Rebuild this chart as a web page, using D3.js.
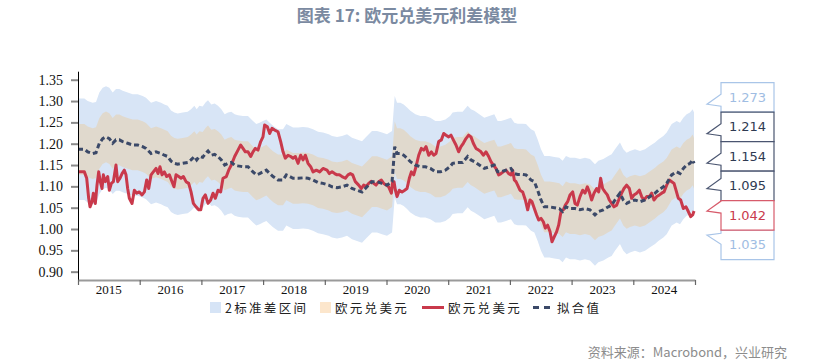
<!DOCTYPE html>
<html><head><meta charset="utf-8">
<script src="https://cdn.jsdelivr.net/npm/d3@7"></script>
<style>body{margin:0;background:#fff}svg{display:block}</style>
</head><body><svg id="c" width="823" height="364"></svg>
<script>
const title = "图表 17: 欧元兑美元利差模型";
const source = "资料来源：Macrobond，兴业研究";
const years = [2015,2016,2017,2018,2019,2020,2021,2022,2023,2024];
const yTicks = [0.90,0.95,1.00,1.05,1.10,1.15,1.20,1.25,1.30,1.35];
const legendLabels = ["2标准差区间","欧元兑美元","欧元兑美元","拟合值"];
const sigma = 0.0595;
const calloutValues = [1.273,1.214,1.154,1.095,1.042,1.035];
const calloutKinds = ["band2","band1","fit","band1","spot","band2"];

const eurusd = [
[2015.005,1.134],[2015.103,1.134],[2015.141,1.119],[2015.173,1.072],[2015.195,1.052],[2015.227,1.064],[2015.249,1.084],[2015.281,1.060],[2015.308,1.103],[2015.335,1.134],[2015.362,1.111],[2015.389,1.095],[2015.411,1.127],[2015.443,1.111],[2015.481,1.123],[2015.508,1.091],[2015.541,1.107],[2015.573,1.111],[2015.616,1.150],[2015.643,1.111],[2015.681,1.119],[2015.714,1.130],[2015.751,1.138],[2015.778,1.127],[2015.805,1.095],[2015.832,1.072],[2015.876,1.060],[2015.913,1.091],[2015.951,1.084],[2015.994,1.087],
[2016.038,1.080],[2016.076,1.087],[2016.113,1.115],[2016.146,1.095],[2016.184,1.127],[2016.221,1.134],[2016.265,1.142],[2016.297,1.130],[2016.329,1.146],[2016.362,1.127],[2016.400,1.134],[2016.437,1.123],[2016.481,1.127],[2016.524,1.111],[2016.556,1.099],[2016.589,1.127],[2016.632,1.123],[2016.670,1.119],[2016.708,1.123],[2016.751,1.111],[2016.794,1.107],[2016.832,1.087],[2016.870,1.060],[2016.913,1.052],[2016.956,1.045],[2016.990,1.045],
[2017.026,1.072],[2017.064,1.080],[2017.107,1.060],[2017.150,1.068],[2017.188,1.084],[2017.226,1.072],[2017.269,1.091],[2017.312,1.087],[2017.350,1.119],[2017.404,1.123],[2017.442,1.138],[2017.485,1.150],[2017.539,1.170],[2017.593,1.185],[2017.637,1.197],[2017.674,1.189],[2017.712,1.181],[2017.755,1.181],[2017.799,1.170],[2017.836,1.181],[2017.874,1.189],[2017.917,1.185],[2017.961,1.205],[2017.998,1.216],
[2018.025,1.244],[2018.069,1.240],[2018.107,1.224],[2018.144,1.236],[2018.188,1.232],[2018.242,1.228],[2018.285,1.205],[2018.323,1.181],[2018.360,1.166],[2018.404,1.173],[2018.447,1.170],[2018.485,1.166],[2018.523,1.170],[2018.566,1.154],[2018.609,1.173],[2018.647,1.162],[2018.685,1.173],[2018.728,1.154],[2018.771,1.146],[2018.809,1.134],[2018.863,1.138],[2018.917,1.134],[2018.971,1.142],
[2019.036,1.138],[2019.074,1.130],[2019.117,1.134],[2019.160,1.130],[2019.198,1.127],[2019.236,1.127],[2019.279,1.123],[2019.333,1.119],[2019.376,1.127],[2019.414,1.130],[2019.452,1.127],[2019.495,1.111],[2019.549,1.103],[2019.592,1.095],[2019.630,1.103],[2019.668,1.099],[2019.711,1.107],[2019.755,1.112],[2019.792,1.107],[2019.830,1.103],[2019.873,1.111],[2019.917,1.115],[2019.954,1.107],[2019.992,1.103],
[2020.035,1.099],[2020.079,1.084],[2020.100,1.111],[2020.122,1.111],[2020.144,1.091],[2020.171,1.076],[2020.208,1.091],[2020.252,1.087],[2020.295,1.091],[2020.333,1.095],[2020.370,1.119],[2020.403,1.134],[2020.441,1.127],[2020.478,1.146],[2020.522,1.173],[2020.565,1.189],[2020.603,1.185],[2020.641,1.193],[2020.684,1.173],[2020.727,1.181],[2020.765,1.173],[2020.803,1.177],[2020.846,1.205],[2020.889,1.209],[2020.927,1.224],[2020.965,1.220],
[2021.008,1.216],[2021.045,1.220],[2021.083,1.209],[2021.126,1.197],[2021.169,1.181],[2021.207,1.193],[2021.245,1.201],[2021.288,1.212],[2021.331,1.220],[2021.369,1.216],[2021.407,1.201],[2021.450,1.189],[2021.493,1.185],[2021.531,1.181],[2021.569,1.173],[2021.612,1.181],[2021.656,1.170],[2021.693,1.158],[2021.731,1.150],[2021.774,1.142],[2021.818,1.127],[2021.855,1.130],[2021.893,1.134],[2021.936,1.138],[2021.980,1.130],
[2022.017,1.127],[2022.044,1.138],[2022.072,1.115],[2022.099,1.111],[2022.126,1.103],[2022.163,1.091],[2022.207,1.087],[2022.250,1.068],[2022.288,1.045],[2022.325,1.068],[2022.358,1.064],[2022.396,1.048],[2022.433,1.033],[2022.466,1.021],[2022.504,1.025],[2022.542,1.017],[2022.574,1.002],[2022.612,1.009],[2022.650,0.994],[2022.682,0.970],[2022.720,0.982],[2022.758,0.994],[2022.790,1.009],[2022.828,1.041],[2022.866,1.045],[2022.898,1.056],[2022.936,1.064],[2022.974,1.080],
[2023.017,1.087],[2023.055,1.060],[2023.093,1.056],[2023.136,1.076],[2023.179,1.091],[2023.217,1.084],[2023.255,1.099],[2023.287,1.087],[2023.325,1.068],[2023.363,1.084],[2023.406,1.095],[2023.439,1.087],[2023.471,1.119],[2023.503,1.095],[2023.541,1.087],[2023.579,1.080],[2023.611,1.068],[2023.649,1.060],[2023.687,1.052],[2023.730,1.056],[2023.774,1.072],[2023.811,1.084],[2023.849,1.095],[2023.892,1.103],[2023.936,1.095],[2023.973,1.072],
[2024.011,1.080],[2024.054,1.084],[2024.098,1.091],[2024.135,1.076],[2024.173,1.068],[2024.217,1.076],[2024.260,1.076],[2024.298,1.084],[2024.335,1.068],[2024.379,1.076],[2024.422,1.080],[2024.460,1.084],[2024.498,1.087],[2024.541,1.103],[2024.584,1.115],[2024.622,1.111],[2024.660,1.107],[2024.692,1.091],[2024.730,1.072],[2024.768,1.068],[2024.811,1.048],[2024.854,1.052],[2024.892,1.041],[2024.930,1.029],[2024.962,1.033],[2024.984,1.042]
];

const fitted = [
[2015.000,1.187],[2015.103,1.187],[2015.157,1.181],[2015.238,1.177],[2015.292,1.179],[2015.346,1.201],[2015.400,1.212],[2015.454,1.216],[2015.508,1.212],[2015.562,1.201],[2015.616,1.209],[2015.670,1.209],[2015.724,1.205],[2015.805,1.201],[2015.886,1.197],[2015.967,1.197],
[2016.048,1.193],[2016.102,1.189],[2016.184,1.177],[2016.265,1.181],[2016.346,1.177],[2016.400,1.173],[2016.454,1.170],[2016.508,1.159],[2016.562,1.154],[2016.616,1.152],[2016.697,1.154],[2016.778,1.156],[2016.832,1.162],[2016.886,1.170],[2016.924,1.162],[2016.967,1.170],
[2017.020,1.168],[2017.070,1.178],[2017.107,1.183],[2017.161,1.173],[2017.215,1.175],[2017.269,1.170],[2017.323,1.162],[2017.377,1.150],[2017.431,1.154],[2017.485,1.156],[2017.539,1.150],[2017.593,1.148],[2017.674,1.146],[2017.755,1.146],[2017.836,1.134],[2017.890,1.127],[2017.944,1.130],[2017.998,1.134],
[2018.053,1.138],[2018.107,1.130],[2018.161,1.123],[2018.242,1.115],[2018.323,1.115],[2018.377,1.127],[2018.431,1.123],[2018.485,1.119],[2018.566,1.119],[2018.647,1.120],[2018.728,1.119],[2018.809,1.115],[2018.890,1.109],[2018.971,1.107],
[2019.063,1.103],[2019.117,1.099],[2019.198,1.097],[2019.279,1.099],[2019.360,1.103],[2019.441,1.095],[2019.522,1.091],[2019.603,1.087],[2019.684,1.099],[2019.765,1.111],[2019.846,1.111],[2019.927,1.107],
[2020.008,1.103],[2020.090,1.111],[2020.111,1.150],[2020.133,1.193],[2020.171,1.177],[2020.225,1.177],[2020.279,1.173],[2020.333,1.166],[2020.387,1.158],[2020.468,1.150],[2020.549,1.146],[2020.630,1.146],[2020.711,1.142],[2020.792,1.134],[2020.873,1.134],[2020.954,1.138],
[2021.030,1.146],[2021.072,1.154],[2021.153,1.156],[2021.234,1.156],[2021.315,1.170],[2021.369,1.162],[2021.423,1.158],[2021.504,1.150],[2021.585,1.142],[2021.666,1.146],[2021.747,1.150],[2021.801,1.134],[2021.855,1.134],[2021.936,1.138],
[2022.017,1.142],[2022.072,1.130],[2022.126,1.128],[2022.207,1.128],[2022.261,1.127],[2022.342,1.115],[2022.396,1.111],[2022.450,1.091],[2022.504,1.068],[2022.558,1.052],[2022.639,1.052],[2022.720,1.050],[2022.801,1.048],[2022.855,1.041],[2022.909,1.052],[2022.974,1.048],
[2023.055,1.048],[2023.136,1.045],[2023.217,1.048],[2023.298,1.045],[2023.379,1.033],[2023.433,1.041],[2023.514,1.045],[2023.595,1.052],[2023.649,1.056],[2023.703,1.068],[2023.784,1.084],[2023.838,1.068],[2023.892,1.060],[2023.946,1.064],
[2024.027,1.068],[2024.108,1.064],[2024.190,1.068],[2024.271,1.076],[2024.352,1.084],[2024.406,1.091],[2024.487,1.099],[2024.541,1.107],[2024.622,1.127],[2024.703,1.134],[2024.757,1.130],[2024.811,1.142],[2024.865,1.150],[2024.919,1.154],[2024.962,1.162],[2024.984,1.154]
];

const svg = d3.select("#c");
const x = d3.scaleLinear().domain([2015, 2025]).range([78, 695]);
const y = d3.scaleLinear().domain([0.88, 1.37]).range([280.2, 71.2]);

const serif = "'Liberation Serif','Times New Roman',serif";
const cjk = "'Noto Sans CJK SC','Noto Sans',sans-serif";

// title
svg.append("text").attr("x", 407).attr("y", 22).attr("text-anchor", "middle")
  .attr("font-family", cjk).attr("font-weight", "bold").attr("font-size", 17)
  .attr("fill", "#7b8aa1").text(title);

// bands
const band = fitted.map(d => ({t: d[0], f: d[1]}));
const area2 = d3.area().x(d => x(d.t)).y0(d => y(d.f - 2 * sigma)).y1(d => y(d.f + 2 * sigma));
const area1 = d3.area().x(d => x(d.t)).y0(d => y(d.f - sigma)).y1(d => y(d.f + sigma));
svg.append("path").datum(band).attr("d", area2).attr("fill", "#d8e5f6");
svg.append("path").datum(band).attr("d", area1).attr("fill", "#e0d9cd");

// lines
const line = d3.line().x(d => x(d[0])).y(d => y(d[1]));
svg.append("path").datum(eurusd).attr("d", line).attr("fill", "none")
  .attr("stroke", "#c9394b").attr("stroke-width", 3).attr("stroke-linejoin", "round");
svg.append("path").datum(fitted).attr("d", line).attr("fill", "none")
  .attr("stroke", "#3b4968").attr("stroke-width", 3).attr("stroke-dasharray", "5,3");

// y axis
const yAxis = svg.append("g").attr("transform", "translate(78,0)")
  .call(d3.axisLeft(y).tickValues(yTicks).tickSize(7).tickSizeOuter(0).tickFormat(d3.format(".2f")));
yAxis.select(".domain").attr("stroke", "#000").attr("stroke-width", 1);
yAxis.selectAll(".tick line").attr("stroke", "#8a8a8a").attr("stroke-width", 2);
yAxis.selectAll(".tick text").attr("font-family", serif).attr("font-size", 14).attr("fill", "#111").attr("x", -15);

// x axis
const xAxis = svg.append("g").attr("transform", "translate(0,280)")
  .call(d3.axisBottom(x).tickValues(d3.range(2015, 2026)).tickSize(5).tickSizeOuter(0).tickFormat(""));
xAxis.select(".domain").attr("stroke", "#9a9a9a").attr("stroke-width", 2);
xAxis.selectAll(".tick line").attr("stroke", "#666").attr("stroke-width", 1.2);
svg.append("g").selectAll("text").data(years).join("text")
  .attr("x", d => x(d + 0.5)).attr("y", 293.5).attr("text-anchor", "middle")
  .attr("font-family", serif).attr("font-size", 13).attr("fill", "#111").text(d => d);

// legend
const lg = svg.append("g").attr("font-family", cjk).attr("font-size", 12.5).attr("fill", "#222").attr("letter-spacing", 2.3);
lg.append("rect").attr("x", 210).attr("y", 302).attr("width", 11).attr("height", 11).attr("fill", "#d6e4f6");
lg.append("text").attr("x", 225).attr("y", 312.5).text(legendLabels[0]);
lg.append("rect").attr("x", 320).attr("y", 302).attr("width", 11).attr("height", 11).attr("fill", "#fce6cc");
lg.append("text").attr("x", 335).attr("y", 312.5).text(legendLabels[1]);
lg.append("line").attr("x1", 422).attr("x2", 444).attr("y1", 307.5).attr("y2", 307.5).attr("stroke", "#c9394b").attr("stroke-width", 3);
lg.append("text").attr("x", 448).attr("y", 312.5).text(legendLabels[2]);
lg.append("line").attr("x1", 533).attr("x2", 553).attr("y1", 307.5).attr("y2", 307.5).attr("stroke", "#3b4968").attr("stroke-width", 3).attr("stroke-dasharray", "6,5");
lg.append("text").attr("x", 557).attr("y", 312.5).text(legendLabels[3]);

// source
svg.append("text").attr("x", 787).attr("y", 357).attr("text-anchor", "end")
  .attr("font-family", cjk).attr("font-size", 13).attr("fill", "#8c8c8c").text(source);

// callouts
const style = {
  band2: {stroke: "#a9c5e8", text: "#9fbde3", order: 0},
  band1: {stroke: "#4a5570", text: "#2f3a52", order: 1},
  fit:   {stroke: "#4a5570", text: "#2f3a52", order: 1},
  spot:  {stroke: "#d75b6b", text: "#c93a4c", order: 2}
};
const h = 29.5, bx0 = 721, bx1 = 774, tipX = 707;
const items = calloutValues.map((v, i) => ({v, kind: calloutKinds[i], want: y(v)}))
  .sort((a, b) => a.want - b.want);
let groups = [];
items.forEach(it => {
  groups.push({items: [it], top: it.want - h / 2});
  while (groups.length > 1) {
    const g = groups[groups.length - 1], p = groups[groups.length - 2];
    if (p.top + p.items.length * h > g.top) {
      const all = p.items.concat(g.items);
      const m = d3.mean(all, d => d.want);
      groups.splice(-2, 2, {items: all, top: m - all.length * h / 2});
    } else break;
  }
});
groups.forEach(g => g.items.forEach((it, i) => { it.top = g.top + i * h; }));
const cg = svg.append("g");
items.slice().sort((a, b) => style[a.kind].order - style[b.kind].order).forEach(it => {
  const top = it.top, bot = it.top + h;
  const tipY = Math.max(top + 5, Math.min(bot - 8, it.want));
  let b0, b1;
  if (it.want >= tipY - 0.5) { b0 = tipY - 10; b1 = tipY + 2; }
  else { b0 = tipY - 2; b1 = tipY + 9; }
  b0 = Math.max(top, b0); b1 = Math.min(bot, b1);
  const p = `M${bx0},${top}H${bx1}V${bot}H${bx0}V${b1}L${tipX},${tipY}L${bx0},${b0}Z`;
  const s = style[it.kind];
  cg.append("path").attr("d", p).attr("fill", "#fff").attr("stroke", s.stroke).attr("stroke-width", 1.2);
  cg.append("text").attr("x", (bx0 + bx1) / 2).attr("y", top + h / 2 + 4.5).attr("text-anchor", "middle")
    .attr("font-family", "'DejaVu Sans',sans-serif").attr("font-size", 13).attr("fill", s.text)
    .text(d3.format(".3f")(it.v));
});
</script></body></html>
